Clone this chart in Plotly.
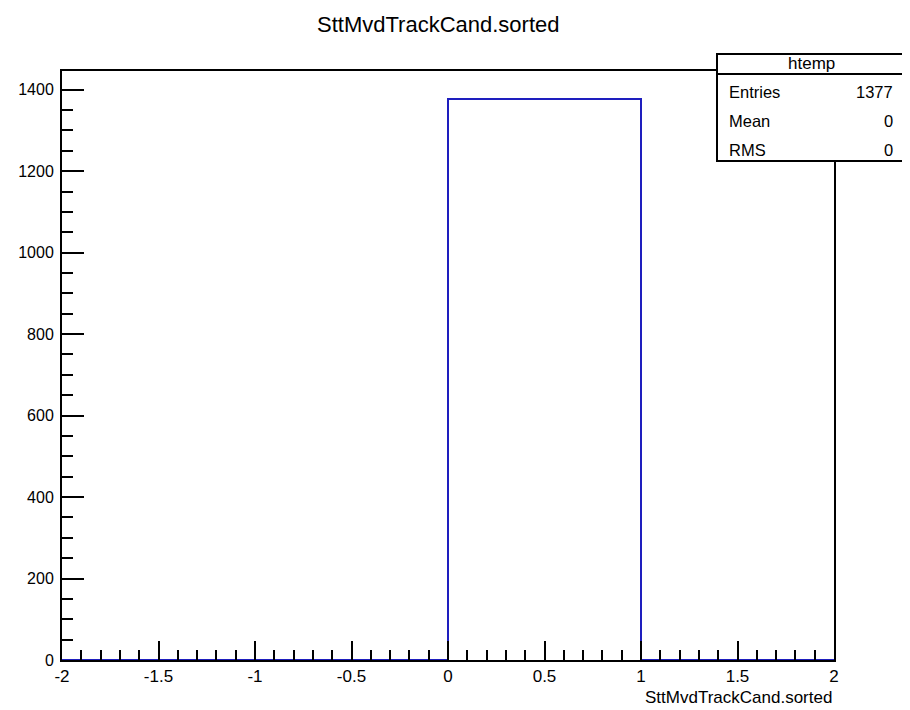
import plotly.graph_objects as go

# Data
bin_edges = [-2, -1, 0, 1, 2]
bin_counts = [0, 0, 1377, 0]
hist_name = "htemp"
var_name = "SttMvdTrackCand.sorted"
stats_labels = ["Entries", "Mean", "RMS"]
stats_values = ["1377", "0", "0"]
x_tick_vals = [-2, -1.5, -1, -0.5, 0, 0.5, 1, 1.5, 2]
x_tick_text = ["-2", "-1.5", "-1", "-0.5", "0", "0.5", "1", "1.5", "2"]
y_tick_vals = [0, 200, 400, 600, 800, 1000, 1200, 1400]
y_tick_text = ["0", "200", "400", "600", "800", "1000", "1200", "1400"]

FONT = "Liberation Sans, Arial, Helvetica, sans-serif"
OFF = 8  # page body margin
W, H = 910, 710
L, R, T, B = 62, 834, 71, 660  # target screen coords of the frame


def px(x):
    return (x - L) / (R - L)


def py(y):
    return (B - y) / (B - T)


# step outline
xs = list(bin_edges)
ys = list(bin_counts) + [bin_counts[-1]]

fig = go.Figure()
fig.add_trace(go.Scatter(
    x=xs, y=ys, mode="lines", line=dict(shape="hv", color="#1e1ebe", width=2),
    hoverinfo="skip", showlegend=False, cliponaxis=False,
))

ymax = max(bin_counts) * 1.05

fig.update_layout(
    width=W - OFF, height=H - OFF,
    margin=dict(l=L - OFF, r=W - R, t=T - OFF, b=H - B, pad=0, autoexpand=False),
    paper_bgcolor="white", plot_bgcolor="white",
    font=dict(family=FONT, color="black", size=16),
    showlegend=False,
    xaxis=dict(
        range=[bin_edges[0], bin_edges[-1]], tickvals=x_tick_vals, ticktext=x_tick_text,
        ticks="inside", ticklen=19, tickwidth=1.5, tickcolor="black",
        minor=dict(dtick=0.1, tick0=0, ticks="inside", ticklen=10, tickwidth=1.5, tickcolor="black"),
        showline=True, linecolor="black", linewidth=2, mirror=True,
        showgrid=False, zeroline=False, tickfont=dict(size=17, family=FONT),
        ticklabelstandoff=0, automargin=False,
    ),
    yaxis=dict(
        range=[0, ymax], tickvals=y_tick_vals, ticktext=y_tick_text,
        ticks="inside", ticklen=22, tickwidth=1.5, tickcolor="black",
        minor=dict(dtick=50, tick0=0, ticks="inside", ticklen=11, tickwidth=1.5, tickcolor="black"),
        showline=True, linecolor="black", linewidth=2, mirror=True,
        showgrid=False, zeroline=False, tickfont=dict(size=16, family=FONT),
        ticklabelstandoff=3, automargin=False,
    ),
)

annotations = []
# Title
annotations.append(dict(x=px(438), y=py(24), xanchor="center", yanchor="middle",
                        text=var_name, font=dict(size=22, family=FONT)))
# x axis title
annotations.append(dict(x=px(834), y=py(697), xanchor="right", yanchor="middle",
                        text=var_name, font=dict(size=17, family=FONT)))

# Stats box
box_l, box_r, box_t, box_sep, box_b = 717, 1000, 54, 74, 161
fig.add_shape(type="rect", xref="paper", yref="paper",
              x0=px(box_l), x1=px(box_r), y0=py(box_b), y1=py(box_t),
              line=dict(color="black", width=2), fillcolor="white", layer="above")
fig.add_shape(type="line", xref="paper", yref="paper",
              x0=px(box_l), x1=px(box_r), y0=py(box_sep), y1=py(box_sep),
              line=dict(color="black", width=2), layer="above")
annotations.append(dict(x=px(811), y=py(63), xanchor="center", yanchor="middle",
                        text=hist_name, font=dict(size=17, family=FONT)))
row_y = [92, 121, 150]
for lab, val, yy in zip(stats_labels, stats_values, row_y):
    annotations.append(dict(x=px(727), y=py(yy), xanchor="left", yanchor="middle",
                            text=lab, font=dict(size=16.5, family=FONT)))
    annotations.append(dict(x=px(895), y=py(yy), xanchor="right", yanchor="middle",
                            text=val, font=dict(size=16.5, family=FONT)))
for a in annotations:
    fig.add_annotation(xref="paper", yref="paper", showarrow=False, **a)

fig.write_html("out.html")
